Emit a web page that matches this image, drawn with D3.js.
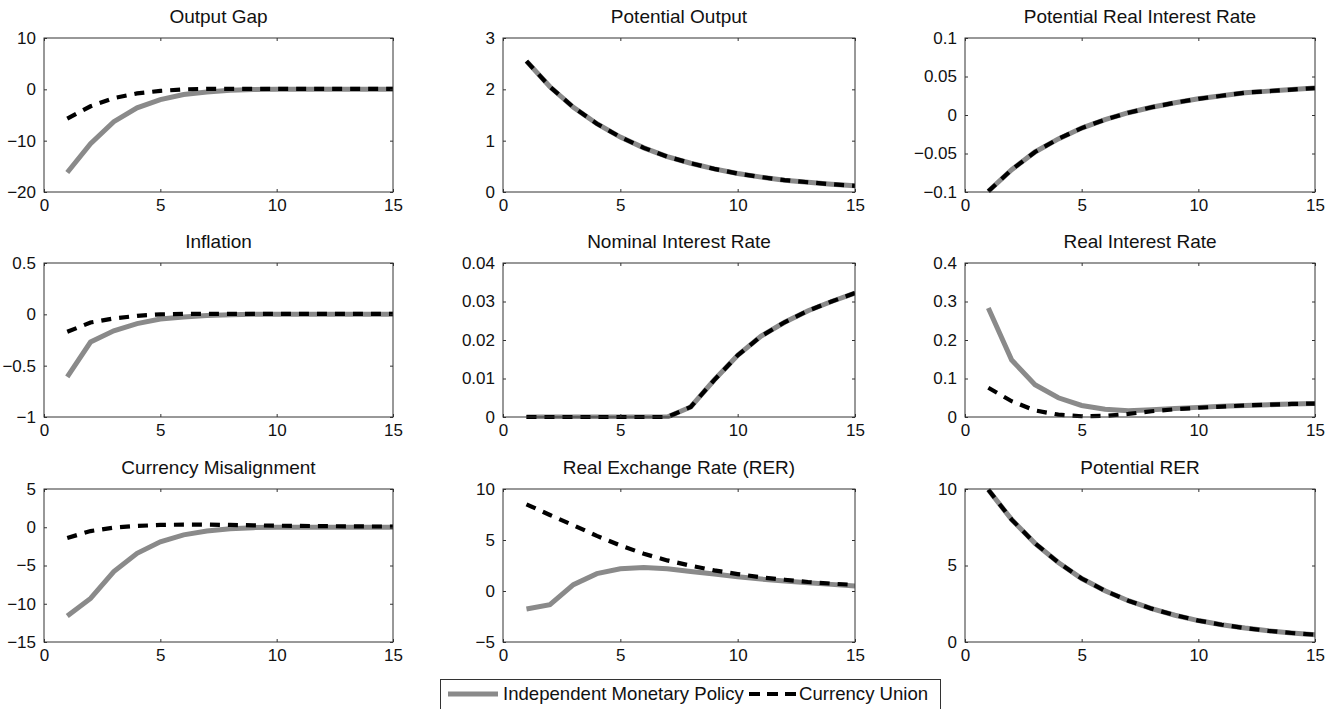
<!DOCTYPE html>
<html><head><meta charset="utf-8">
<script src="https://cdn.jsdelivr.net/npm/d3@7"></script>
<style>
body{margin:0;background:#fff;}
svg text{font-family:"Liberation Sans",Arial,Helvetica,sans-serif;fill:#111;}
</style></head>
<body><svg id="c" width="1338" height="709"></svg>
<script>
// ---------- DATA ----------
const periods = [1,2,3,4,5,6,7,8,9,10,11,12,13,14,15];
const seriesNames = ["Independent Monetary Policy","Currency Union"];
const titles = ["Output Gap","Potential Output","Potential Real Interest Rate",
  "Inflation","Nominal Interest Rate","Real Interest Rate",
  "Currency Misalignment","Real Exchange Rate (RER)","Potential RER"];

const outputGapIMP = [-16.2,-10.6,-6.3,-3.6,-2.0,-1.0,-0.5,-0.2,-0.05,0,0,0,0,0,0];
const outputGapCU  = [-5.7,-3.3,-1.7,-0.8,-0.3,0.0,0.1,0.1,0.1,0.1,0.1,0.1,0.1,0.1,0.1];
const potOutputIMP = [2.55,2.05,1.65,1.33,1.07,0.86,0.69,0.56,0.45,0.36,0.29,0.23,0.19,0.15,0.12];
const potOutputCU  = [2.55,2.05,1.65,1.33,1.07,0.86,0.69,0.56,0.45,0.36,0.29,0.23,0.19,0.15,0.12];
const potRealRateIMP = [-0.099,-0.071,-0.048,-0.031,-0.017,-0.006,0.003,0.010,0.016,0.021,0.025,0.029,0.031,0.033,0.035];
const potRealRateCU  = [-0.099,-0.071,-0.048,-0.031,-0.017,-0.006,0.003,0.010,0.016,0.021,0.025,0.029,0.031,0.033,0.035];
const inflationIMP = [-0.61,-0.27,-0.16,-0.09,-0.045,-0.025,-0.012,-0.005,0,0,0,0,0,0,0];
const inflationCU  = [-0.17,-0.08,-0.04,-0.015,0,0.005,0.005,0.005,0.005,0.005,0.005,0.005,0.005,0.005,0.005];
const nominalRateIMP = [0,0,0,0,0,0,0,0.0026,0.0096,0.016,0.021,0.0246,0.0276,0.0300,0.0322];
const nominalRateCU  = [0,0,0,0,0,0,0,0.0026,0.0096,0.016,0.021,0.0246,0.0276,0.0300,0.0322];
const realRateIMP = [0.283,0.148,0.084,0.050,0.030,0.020,0.016,0.019,0.022,0.025,0.028,0.030,0.032,0.034,0.035];
const realRateCU  = [0.076,0.041,0.017,0.006,0.002,0.003,0.008,0.015,0.020,0.024,0.027,0.030,0.032,0.034,0.035];
const misalignIMP = [-11.6,-9.3,-5.8,-3.4,-1.9,-1.0,-0.5,-0.2,-0.05,0,0,0,0,0,0];
const misalignCU  = [-1.4,-0.5,-0.05,0.17,0.3,0.35,0.35,0.3,0.25,0.2,0.17,0.15,0.12,0.1,0.1];
const rerIMP = [-1.76,-1.34,0.62,1.7,2.18,2.3,2.18,1.92,1.66,1.4,1.17,0.98,0.82,0.65,0.5];
const rerCU  = [8.5,7.45,6.45,5.4,4.47,3.65,3.0,2.48,2.02,1.66,1.34,1.1,0.88,0.72,0.6];
const potRerIMP = [9.95,8.0,6.45,5.2,4.15,3.35,2.7,2.18,1.75,1.4,1.13,0.91,0.73,0.59,0.48];
const potRerCU  = [9.95,8.0,6.45,5.2,4.15,3.35,2.7,2.18,1.75,1.4,1.13,0.91,0.73,0.59,0.48];

const xTicks = [0,5,10,15];
const yTicks = [
  [-20,-10,0,10],[0,1,2,3],[-0.1,-0.05,0,0.05,0.1],
  [-1,-0.5,0,0.5],[0,0.01,0.02,0.03,0.04],[0,0.1,0.2,0.3,0.4],
  [-15,-10,-5,0,5],[-5,0,5,10],[0,5,10]];
const yDomains = [[-20,10],[0,3],[-0.1,0.1],[-1,0.5],[0,0.04],[0,0.4],[-15,5],[-5,10],[0,10]];
const imp = [outputGapIMP,potOutputIMP,potRealRateIMP,inflationIMP,nominalRateIMP,realRateIMP,misalignIMP,rerIMP,potRerIMP];
const cu  = [outputGapCU,potOutputCU,potRealRateCU,inflationCU,nominalRateCU,realRateCU,misalignCU,rerCU,potRerCU];

// ---------- LAYOUT ----------
const cols = [[44,393],[503,855],[965,1315]];
const rows = [[38,192],[263,417],[489,642]];
const GRAY = "#8a8a8a", GW = 5, DW = 4.2, DASH = "10,8";

const svg = d3.select("#c");
const fmt = v => (v < 0 ? "\u2212" : "") + String(Math.abs(v));

titles.forEach((t, i) => {
  const [x0,x1] = cols[i%3], [y0,y1] = rows[Math.floor(i/3)];
  const x = d3.scaleLinear().domain([0,15]).range([x0,x1]);
  const y = d3.scaleLinear().domain(yDomains[i]).range([y1,y0]);
  const g = svg.append("g");
  const clipId = "clip"+i;
  g.append("clipPath").attr("id",clipId).append("rect")
    .attr("x",x0).attr("y",y0-2).attr("width",x1-x0).attr("height",y1-y0+4);

  const line = d3.line().x((d,k)=>x(periods[k])).y(d=>y(d));
  g.append("path").datum(imp[i]).attr("d",line).attr("fill","none")
    .attr("stroke",GRAY).attr("stroke-width",GW).attr("clip-path",`url(#${clipId})`);
  g.append("path").datum(cu[i]).attr("d",line).attr("fill","none")
    .attr("stroke","#000").attr("stroke-width",DW).attr("stroke-dasharray",DASH)
    .attr("clip-path",`url(#${clipId})`);

  const ax = (gen, tr) => g.append("g").attr("transform",tr).call(gen)
    .call(s=>s.select(".domain").remove())
    .call(s=>s.selectAll("line").attr("stroke","#333"));
  const bx = ax(d3.axisBottom(x).tickValues(xTicks).tickSize(-3).tickPadding(7).tickFormat(fmt), `translate(0,${y1})`);
  bx.selectAll("text").attr("font-size",17).attr("dy","0.71em");
  ax(d3.axisTop(x).tickValues(xTicks).tickSize(-3).tickFormat(""), `translate(0,${y0})`);
  const lx = ax(d3.axisLeft(y).tickValues(yTicks[i]).tickSize(-3).tickPadding(8).tickFormat(fmt), `translate(${x0},0)`);
  lx.selectAll("text").attr("font-size",17);
  ax(d3.axisRight(y).tickValues(yTicks[i]).tickSize(-3).tickFormat(""), `translate(${x1},0)`);
  svg.selectAll("text").attr("font-family",null);

  g.append("rect").attr("x",x0).attr("y",y0).attr("width",x1-x0).attr("height",y1-y0)
    .attr("fill","none").attr("stroke","#333").attr("stroke-width",1);

  g.append("text").attr("x",(x0+x1)/2).attr("y",y0-15).attr("text-anchor","middle")
    .attr("font-size",19).text(t);
});

// ---------- LEGEND ----------
const lg = svg.append("g");
lg.append("rect").attr("x",440.5).attr("y",679.5).attr("width",500).attr("height",40)
  .attr("fill","#fff").attr("stroke","#333");
lg.append("line").attr("x1",448).attr("x2",498).attr("y1",694).attr("y2",694)
  .attr("stroke",GRAY).attr("stroke-width",GW);
lg.append("text").attr("x",503).attr("y",700).attr("font-size",18.6).text(seriesNames[0]);
lg.append("line").attr("x1",749).attr("x2",796).attr("y1",694).attr("y2",694)
  .attr("stroke","#000").attr("stroke-width",DW).attr("stroke-dasharray","11,7");
lg.append("text").attr("x",799).attr("y",700).attr("font-size",18.6).text(seriesNames[1]);
</script></body></html>
